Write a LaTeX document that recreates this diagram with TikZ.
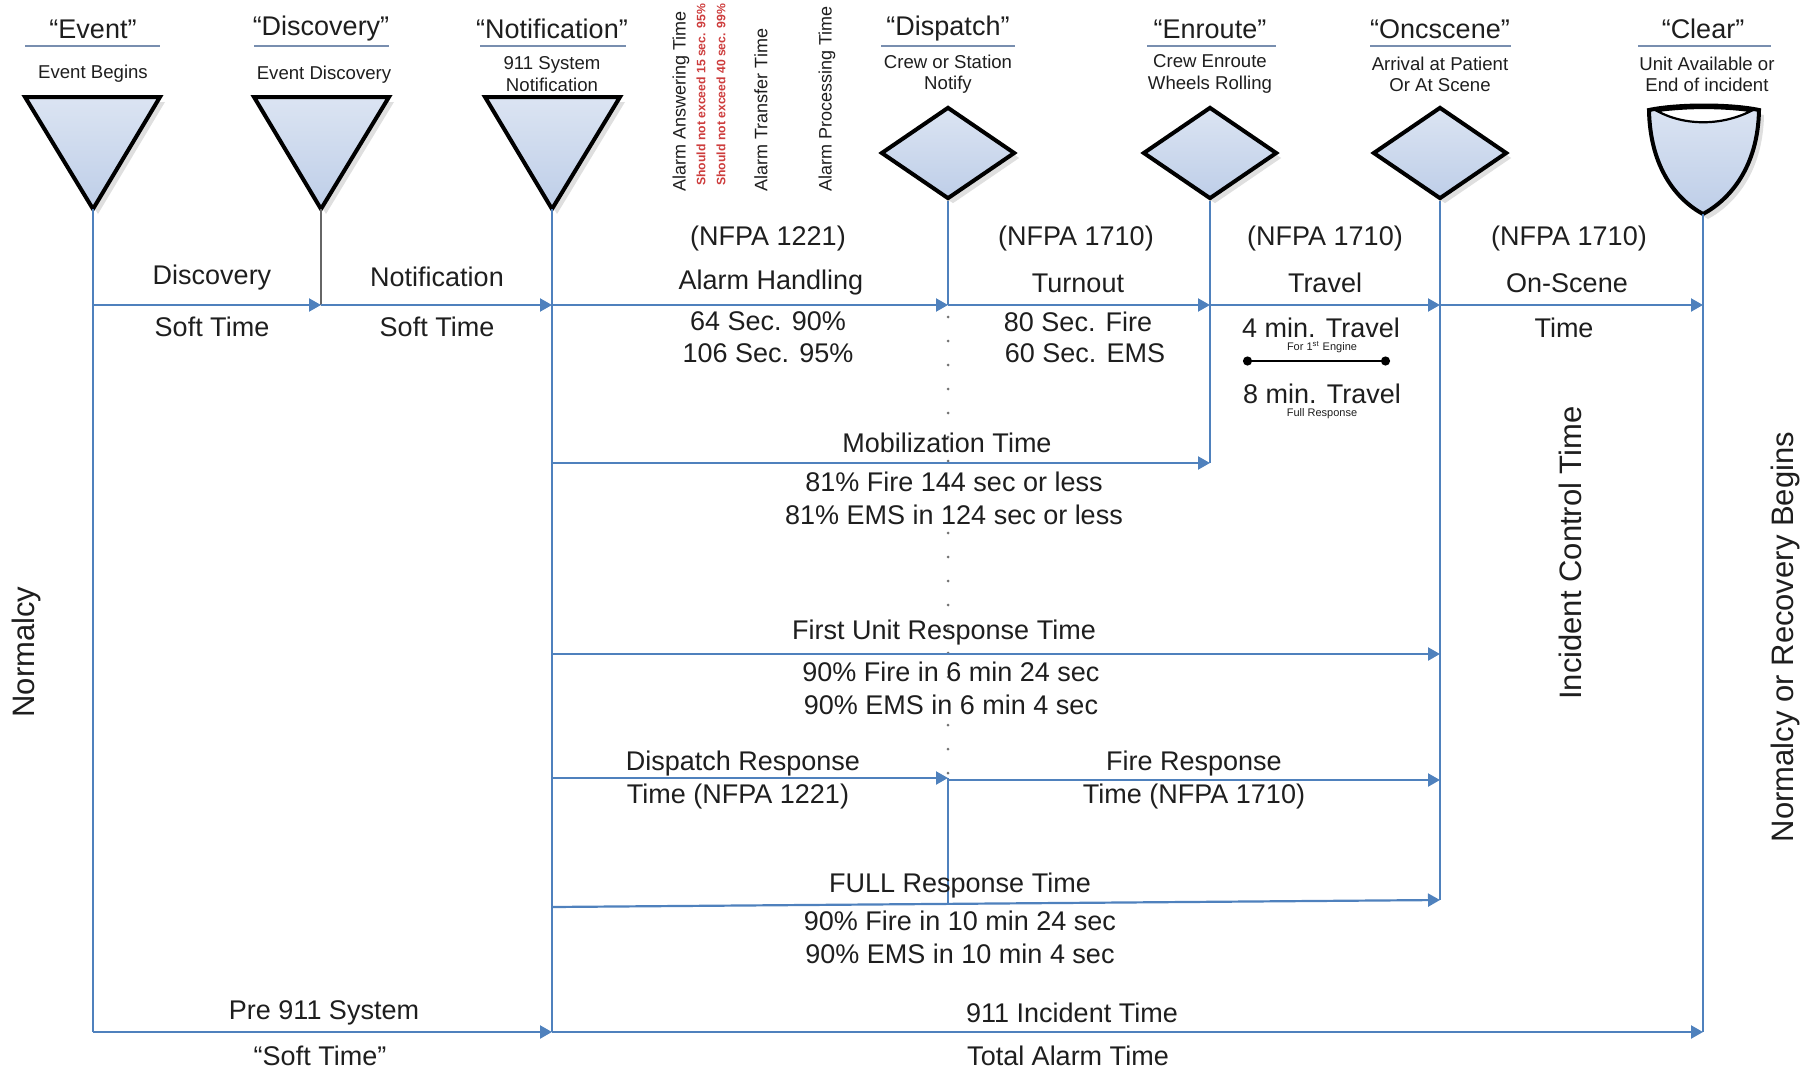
\documentclass[tikz,border=0pt]{standalone}
\usepackage{fontspec}
\setmainfont{Liberation Sans}
\usetikzlibrary{arrows.meta,shapes.geometric,shadows}
\definecolor{lineblue}{RGB}{79,129,189}
\definecolor{symfill}{RGB}{190,206,232}
\definecolor{ulgray}{RGB}{120,142,175}
\definecolor{alarmred}{RGB}{205,60,60}
\definecolor{txt}{RGB}{30,30,30}

\begin{document}
\begin{tikzpicture}[x=0.5pt,y=-0.5pt,
  flow/.style={draw=lineblue,line width=1.1pt},
  flowarr/.style={flow,-{Triangle[length=6pt,width=6.5pt]}},
  dots/.style={draw=black!55,line width=1.5pt,line cap=round,dash pattern=on 0pt off 12pt,dash phase=-6pt},
  sym/.style={draw=black,line width=2pt,line join=miter,top color=symfill!55,bottom color=symfill,
    drop shadow={shadow xshift=2.5pt,shadow yshift=-2.5pt,opacity=0.25}},
  diam/.style={sym,diamond,minimum width=67pt,minimum height=46pt,inner sep=0pt},
  ul/.style={draw=ulgray,line width=1.3pt},
  ttl/.style={font=\fontsize{13.5}{15}\selectfont,text=txt,inner sep=0pt},
  sub/.style={font=\fontsize{9.3}{10.6}\selectfont,text=txt,align=center,inner sep=0pt},
  lbl/.style={font=\fontsize{13.5}{15}\selectfont,text=txt,inner sep=0pt},
  tiny/.style={font=\fontsize{5.5}{6}\selectfont,text=txt,inner sep=0pt},
  rot/.style={font=\fontsize{9}{10}\selectfont,text=txt,rotate=90,anchor=west,inner sep=0pt},
  redrot/.style={font=\fontsize{6.1}{7}\selectfont\bfseries,text=alarmred,rotate=90,anchor=west,inner sep=0pt},
  vlbl/.style={font=\fontsize{15.5}{18}\selectfont,text=txt,rotate=90,inner sep=0pt}]
  \useasboundingbox (0,0) rectangle (1817,1071);

  % milestone titles
  \node[ttl] (tEvt) at (93,29) {“Event”};
  \node[ttl] (tDsc) at (321,29) {“Discovery”};
  \node[ttl] (tNtf) at (552,29) {“Notification”};
  \node[ttl] (tDsp) at (948,29) {“Dispatch”};
  \node[ttl] (tEnr) at (1210,29) {“Enroute”};
  \node[ttl] (tOnc) at (1440,29) {“Oncscene”};
  \node[ttl] (tClr) at (1703,29) {“Clear”};
  \draw[ul] (25,46) -- (160,46);
  \draw[ul] (254,46) -- (389,46);
  \draw[ul] (480,46) -- (626,46);
  \draw[ul] (881,46) -- (1015,46);
  \draw[ul] (1147,46) -- (1276,46);
  \draw[ul] (1370,46) -- (1511,46);
  \draw[ul] (1638,46) -- (1771,46);

  \node[sub] (sEvt) at (93,74) {Event Begins};
  \node[sub] (sDsc) at (324,75) {Event Discovery};
  \node[sub] (sNtf) at (552,74) {911 System\\Notification};
  \node[sub] (sDsp) at (948,74) {Crew or Station\\Notify};
  \node[sub] (sEnr) at (1210,74) {Crew Enroute\\Wheels Rolling};
  \node[sub] (sOnc) at (1440,74) {Arrival at Patient\\Or At Scene};
  \node[sub] (sClr) at (1707,74) {Unit Available or\\End of incident};

  % alarm handling parts
  \node[rot] (ans) at (681,192) {Alarm Answering Time};
  \node[redrot] (ans15) at (701,186) {Should not exceed 15 sec. 95\%};
  \node[redrot] (ans40) at (721,186) {Should not exceed 40 sec. 99\%};
  \node[rot] (trf) at (761,192) {Alarm Transfer Time};
  \node[rot] (prc) at (827,192) {Alarm Processing Time};

  % symbols
  \draw[sym] (25,97) -- (160,97) -- (93,209) -- cycle;
  \draw[sym] (254,97) -- (389,97) -- (321,209) -- cycle;
  \draw[sym] (485,97) -- (620,97) -- (552,209) -- cycle;
  \coordinate (evt) at (93,209);
  \coordinate (dsc) at (321,209);
  \coordinate (ntf) at (552,209);
  \node[diam] (dsp) at (948,153) {};
  \node[diam] (enr) at (1210,153) {};
  \node[diam] (onc) at (1440,153) {};
  \draw[sym] (1649,110) .. controls (1650,168) and (1677,200) .. (1703,214)
    .. controls (1729,200) and (1758,168) .. (1759,110) .. controls (1730,104) and (1678,104) .. cycle;
  \draw[draw=black,line width=1.1pt,fill=white] (1657,111) .. controls (1685,126) and (1721,126) .. (1751,111)
    .. controls (1720,107) and (1688,107) .. cycle;
  \coordinate (clr) at (1703,214);

  % junctions
  \coordinate (mEvt) at (93,305);
  \coordinate (mDsc) at (321,305);
  \coordinate (mNtf) at (552,305);
  \coordinate (mDsp) at (948,305);
  \coordinate (mEnr) at (1210,305);
  \coordinate (mOnc) at (1440,305);
  \coordinate (mClr) at (1703,305);
  \coordinate (zNtf) at (552,463);
  \coordinate (zEnr) at (1210,463);
  \coordinate (uNtf) at (552,654);
  \coordinate (uOnc) at (1440,654);
  \coordinate (rNtf) at (552,778);
  \coordinate (rDsp) at (948,778);
  \coordinate (qDsp) at (948,780);
  \coordinate (rOnc) at (1440,780);
  \coordinate (fNtf) at (552,907);
  \coordinate (fDsp) at (948,904);
  \coordinate (fOnc) at (1440,900);
  \coordinate (bEvt) at (93,1032);
  \coordinate (bNtf) at (552,1032);
  \coordinate (bClr) at (1703,1032);

  % verticals
  \draw[flow] (evt) -- (bEvt);
  \draw[flow,draw=black!60] (dsc) -- (mDsc);
  \draw[flow] (ntf) -- (bNtf);
  \draw[flow] (dsp.south) -- (mDsp);
  \draw[dots] (mDsp) -- (rDsp);
  \draw[flow] (rDsp) -- (fDsp);
  \draw[flow] (enr.south) -- (zEnr);
  \draw[flow] (onc.south) -- (fOnc);
  \draw[flow] (clr) -- (bClr);

  % time spans
  \draw[flowarr] (mEvt) -- (mDsc);
  \draw[flowarr] (mDsc) -- (mNtf);
  \draw[flowarr] (mNtf) -- (mDsp);
  \draw[flowarr] (mDsp) -- (mEnr);
  \draw[flowarr] (mEnr) -- (mOnc);
  \draw[flowarr] (mOnc) -- (mClr);
  \draw[flowarr] (zNtf) -- (zEnr);
  \draw[flowarr] (uNtf) -- (uOnc);
  \draw[flowarr] (rNtf) -- (rDsp);
  \draw[flowarr] (qDsp) -- (rOnc);
  \draw[flowarr] (fNtf) -- (fOnc);
  \draw[flowarr] (bEvt) -- (bNtf);
  \draw[flowarr] (bNtf) -- (bClr);

  % span labels
  \node[lbl] (l1) at (212,278) {Discovery};
  \node[lbl] (l2) at (212,327) {Soft Time};
  \node[lbl] (l3) at (437,277) {Notification};
  \node[lbl] (l4) at (437,327) {Soft Time};
  \node[lbl] (l5) at (768,239) {(NFPA 1221)};
  \node[lbl] (l6) at (771,283) {Alarm Handling};
  \node[lbl] (l7) at (768,321) {64 Sec. 90\%};
  \node[lbl] (l8) at (768,353) {106 Sec. 95\%};
  \node[lbl] (l9) at (1076,239) {(NFPA 1710)};
  \node[lbl] (l10) at (1078,283) {Turnout};
  \node[lbl] (l11) at (1078,322) {80 Sec. Fire};
  \node[lbl] (l12) at (1085,353) {60 Sec. EMS};
  \node[lbl] (l13) at (1325,239) {(NFPA 1710)};
  \node[lbl] (l14) at (1325,283) {Travel};
  \node[lbl] (l15) at (1321,328) {4 min. Travel};
  \node[tiny] (l16) at (1322,347) {For 1\textsuperscript{st} Engine};
  \coordinate (dbL) at (1243,361);
  \coordinate (dbR) at (1390,361);
  \draw[line width=1.2pt,{Circle[length=4.5pt]}-{Circle[length=4.5pt]}] (dbL) -- (dbR);
  \node[lbl] (l17) at (1322,394) {8 min. Travel};
  \node[tiny] (l18) at (1322,414) {Full Response};
  \node[lbl] (l19) at (1569,239) {(NFPA 1710)};
  \node[lbl] (l20) at (1567,283) {On-Scene};
  \node[lbl] (l21) at (1564,328) {Time};

  \node[lbl] (l22) at (947,443) {Mobilization Time};
  \node[lbl] (l23) at (954,482) {81\% Fire 144 sec or less};
  \node[lbl] (l24) at (954,515) {81\% EMS in 124 sec or less};
  \node[lbl] (l25) at (944,633) {First Unit Response Time};
  \node[lbl] (l26) at (951,672) {90\% Fire in 6 min 24 sec};
  \node[lbl] (l27) at (951,705) {90\% EMS in 6 min 4 sec};
  \node[lbl] (l28) at (743,764) {Dispatch Response};
  \node[lbl] (l29) at (738,797) {Time (NFPA 1221)};
  \node[lbl] (l30) at (1194,764) {Fire Response};
  \node[lbl] (l31) at (1194,797) {Time (NFPA 1710)};
  \node[lbl] (l32) at (960,886) {FULL Response Time};
  \node[lbl] (l33) at (960,921) {90\% Fire in 10 min 24 sec};
  \node[lbl] (l34) at (960,954) {90\% EMS in 10 min 4 sec};
  \node[lbl] (l35) at (324,1013) {Pre 911 System};
  \node[lbl] (l36) at (320,1056) {“Soft Time”};
  \node[lbl] (l37) at (1072,1013) {911 Incident Time};
  \node[lbl] (l38) at (1068,1056) {Total Alarm Time};

  % vertical phases
  \node[vlbl] (v1) at (26,652) {Normalcy};
  \node[vlbl] (v2) at (1570,553) {Incident Control Time};
  \node[vlbl] (v3) at (1785,637) {Normalcy or Recovery Begins};
\end{tikzpicture}
\end{document}
